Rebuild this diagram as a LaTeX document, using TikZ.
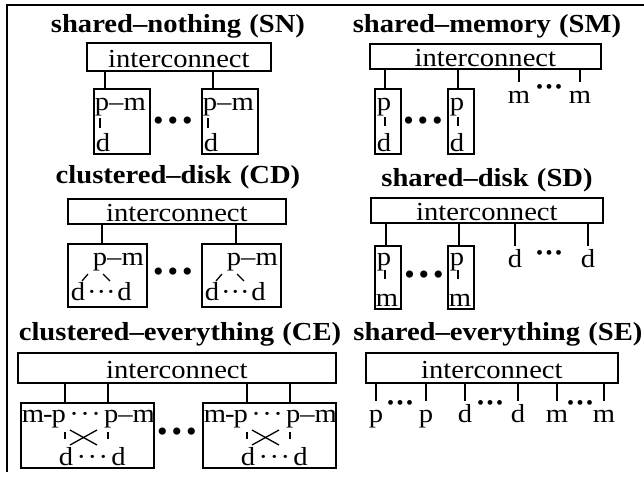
\documentclass[tikz,border=0pt]{standalone}
\usepackage{fontspec}
\setmainfont{Liberation Serif}[FakeStretch=1.1]
\newfontfamily\dotfont{Liberation Serif}
\usetikzlibrary{calc}

% rows of dots between the units and between the labels
\newcommand\rowdots{\dotfont\fontsize{30}{30}\selectfont •\kern4pt•\kern4pt•}
\newcommand\supdots{\dotfont\fontsize{20}{20}\selectfont •\kern2.5pt•\kern2.5pt•}
\newcommand\middots{\kern1.5pt·\kern1.5pt·\kern1.5pt·\kern1.5pt}
\newcommand\hgap{\hspace{0.32em}}

\tikzset{
  heading/.style={font=\fontsize{26}{28}\selectfont\bfseries, inner sep=0pt, anchor=base},
  bus/.style={draw, minimum height=28pt, inner sep=0pt, text height=21pt, text depth=0pt,
    font=\fontsize{26}{28}\selectfont, anchor=north west},
  cell/.style={draw, inner sep=0pt, anchor=north west},
  lbl/.style={font=\fontsize{26}{28}\selectfont, inner sep=0pt, text height=17pt,
    text depth=5pt, anchor=base west},
  gap/.style={inner sep=0pt},
  stub/.style={line width=1.3pt},
  riser/.style={shorten >=3pt},
}

\begin{document}
\begin{tikzpicture}[x=1pt, y=-1pt, line width=1.8pt]
  \useasboundingbox (0,0) rectangle (644,477);
  \draw (7,472) -- (7,5) -- (644,5);

  % shared-nothing
  \node[heading] (snhead) at (178,32) {shared--nothing\hgap(SN)};
  \node[bus, minimum width=184pt] (bus1) at (86,42) {interconnect};
  \foreach \i/\x in {1/93, 2/201}{
    \node[cell, minimum width=56pt, minimum height=65pt] (sn\i) at (\x,88) {};
    \coordinate (sn\i a) at (\x+12,88);
    \draw (bus1.south -| sn\i a) -- (sn\i a);
    \node[lbl] (sn\i pm) at (\x+1,110) {p--m};
    \node[lbl] (sn\i d) at (\x+2,151) {d};
    \draw[stub] ($(sn\i pm.base west)+(6,8)$) -- ++(0,10);
  }
  \node[gap] (sngap) at (173,124) {\rowdots};

  % shared-memory
  \node[heading] (smhead) at (487,32) {shared--memory\hgap(SM)};
  \node[bus, minimum width=231pt, minimum height=25pt] (bus2) at (369,43) {interconnect};
  \foreach \i/\x in {1/374, 2/447}{
    \node[cell, minimum width=26pt, minimum height=65pt] (sm\i) at (\x,88) {};
    \coordinate (sm\i a) at (\x+11,88);
    \draw (bus2.south -| sm\i a) -- (sm\i a);
    \node[lbl] (sm\i p) at (\x+2,110) {p};
    \node[lbl] (sm\i d) at (\x+2,151) {d};
    \draw[stub] ($(sm\i p.base west)+(9,7)$) -- ++(0,9);
  }
  \node[gap] (smgap) at (423,124) {\rowdots};
  \node[lbl, anchor=base] (smm1) at (519,103) {m};
  \node[gap] (smdots) at (549,89) {\supdots};
  \node[lbl, anchor=base] (smm2) at (580,103) {m};
  \foreach \n in {smm1, smm2}
    \draw[riser] (bus2.south -| \n.north) -- (\n.north);

  % clustered-disk
  \node[heading] (cdhead) at (178,183) {clustered--disk\hgap(CD)};
  \node[bus, minimum width=218pt, minimum height=25pt] (bus3) at (67,198) {interconnect};
  \foreach \i/\x in {1/67, 2/201}{
    \node[cell, minimum width=79pt, minimum height=63pt] (cd\i) at (\x,243) {};
    \coordinate (cd\i a) at (\x+35,243);
    \draw (bus3.south -| cd\i a) -- (cd\i a);
    \node[lbl] (cd\i pm) at (\x+25,265) {p--m};
    \node[lbl] (cd\i dl) at (\x+3,300) {d};
    \node[lbl] (cd\i dd) at (cd\i dl.base east) {···};
    \node[lbl] (cd\i dr) at (cd\i dd.base east) {d};
    \draw[stub] ($(cd\i pm.base west)+(-4,9)$) -- ++(-6,7);
    \draw[stub] ($(cd\i pm.base west)+(11,9)$) -- ++(7,7);
  }
  \node[gap] (cdgap) at (173,275) {\rowdots};

  % shared-disk
  \node[heading] (sdhead) at (487,186) {shared--disk\hgap(SD)};
  \node[bus, minimum width=232pt, minimum height=25pt] (bus4) at (370,197) {interconnect};
  \foreach \i/\x in {1/374, 2/447}{
    \node[cell, minimum width=26pt, minimum height=63pt] (sd\i) at (\x,245) {};
    \coordinate (sd\i a) at (\x+12,245);
    \draw (bus4.south -| sd\i a) -- (sd\i a);
    \node[lbl] (sd\i p) at (\x+2,265) {p};
    \node[lbl] (sd\i m) at (\x+1,306) {m};
    \draw[stub] ($(sd\i p.base west)+(9,5)$) -- ++(0,9);
  }
  \node[gap] (sdgap) at (424,278) {\rowdots};
  \node[lbl, anchor=base] (sdd1) at (515,267) {d};
  \node[gap] (sddots) at (549,255) {\supdots};
  \node[lbl, anchor=base] (sdd2) at (588,267) {d};
  \foreach \n in {sdd1, sdd2}
    \draw[riser] (bus4.south -| \n.north) -- (\n.north);

  % clustered-everything
  \node[heading] (cehead) at (180,340) {clustered--everything\hgap(CE)};
  \node[bus, minimum width=318pt, minimum height=30pt] (bus5) at (17,352) {interconnect};
  \foreach \i/\x in {1/20, 2/202}{
    \node[cell, minimum width=133pt, minimum height=65pt] (ce\i) at (\x,402) {};
    \coordinate (ce\i a) at (\x+45,402);
    \coordinate (ce\i b) at (\x+88,402);
    \draw (bus5.south -| ce\i a) -- (ce\i a);
    \draw (bus5.south -| ce\i b) -- (ce\i b);
    \node[lbl] (ce\i mp) at (\x+1,422) {m\kern-1pt-\kern-1pt p};
    \node[lbl] (ce\i pd) at (ce\i mp.base east) {\middots};
    \node[lbl] (ce\i pm) at (ce\i pd.base east) {p--m};
    \node[lbl] (ce\i dl) at (\x+38,465) {d};
    \node[lbl] (ce\i dd) at (ce\i dl.base east) {\middots};
    \node[lbl] (ce\i dr) at (ce\i dd.base east) {d};
    \draw[stub] ($(ce\i a)+(0,30)$) -- ++(0,7);
    \draw[stub] ($(ce\i b)+(0,30)$) -- ++(0,7);
    \draw[stub] ($(ce\i a)+(5,28)$) -- ++(27,15);
    \draw[stub] ($(ce\i a)+(5,43)$) -- ++(27,-15);
  }
  \node[gap] (cegap) at (177,435) {\rowdots};

  % shared-everything
  \node[heading] (sehead) at (498,340) {shared--everything\hgap(SE)};
  \node[bus, minimum width=252pt, minimum height=30pt] (bus6) at (365,352) {interconnect};
  \node[lbl, anchor=base] (sep1) at (376,422) {p};
  \node[gap] (sepdots) at (400,405) {\supdots};
  \node[lbl, anchor=base] (sep2) at (426,422) {p};
  \node[lbl, anchor=base] (sed1) at (465,422) {d};
  \node[gap] (seddots) at (490,405) {\supdots};
  \node[lbl, anchor=base] (sed2) at (518,422) {d};
  \node[lbl, anchor=base] (sem1) at (557,422) {m};
  \node[gap] (semdots) at (580,405) {\supdots};
  \node[lbl, anchor=base] (sem2) at (604,422) {m};
  \foreach \n in {sep1, sep2, sed1, sed2, sem1, sem2}
    \draw[riser] (bus6.south -| \n.north) -- (\n.north);
\end{tikzpicture}
\end{document}
